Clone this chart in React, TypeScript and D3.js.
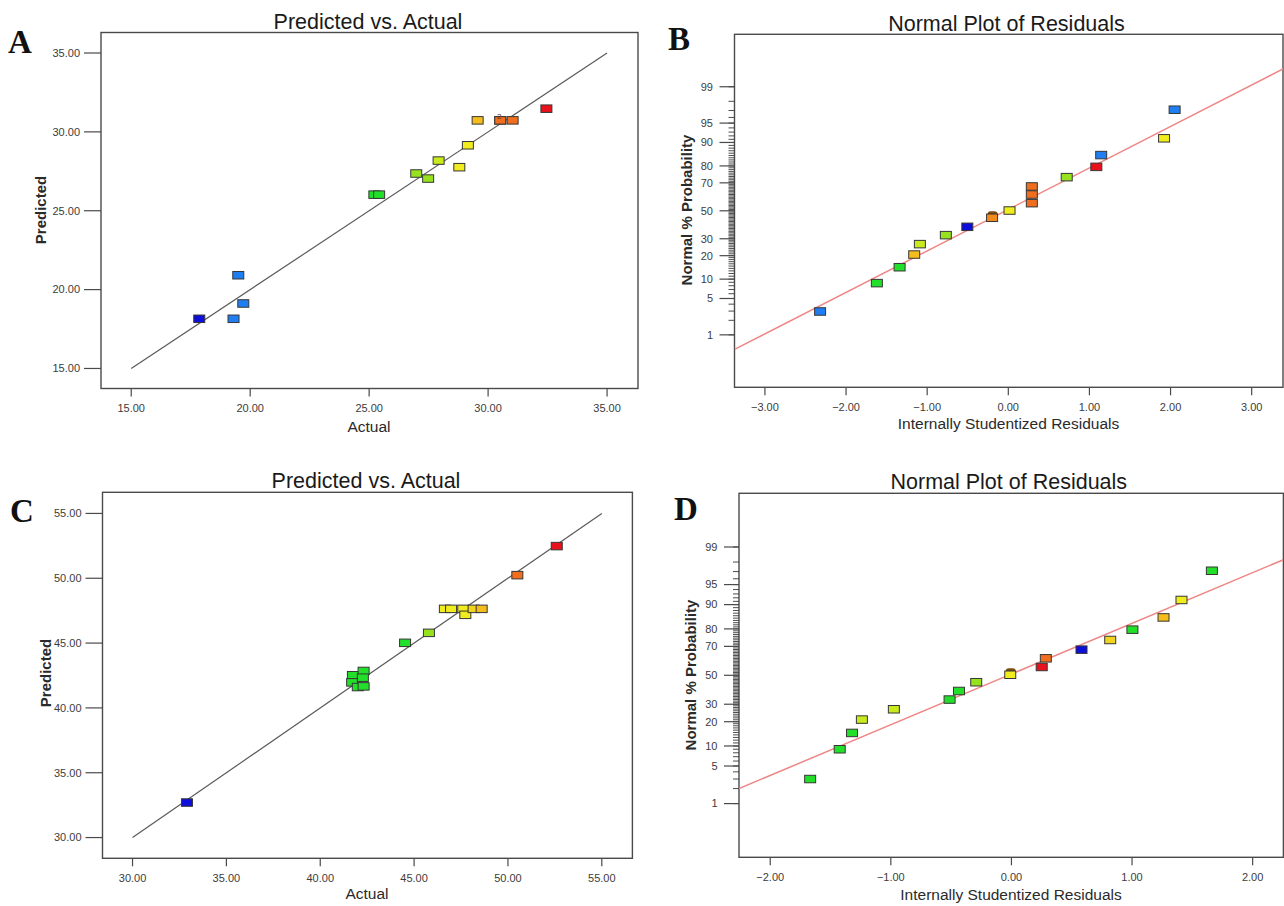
import React from "react";
import * as d3 from "d3";

// ---------- colours of the design points ----------
const C_DARKBLUE = "#0d0ddc";
const C_BLUE = "#1f7ff2";
const C_GREEN = "#22e02a";
const C_LIME = "#97e21e";
const C_YGREEN = "#c9ea1c";
const C_YELLOW = "#f0ec1e";
const C_YGOLD = "#f2d41e";
const C_GOLD = "#f5bd1c";
const C_ORANGE = "#f06e1e";
const C_LORANGE = "#f38a1e";
const C_RED = "#e8121c";

// ---------- Panel A: Predicted vs. Actual ----------
const aActual = [17.86, 19.3, 19.5, 19.71, 25.22, 25.42, 26.98, 27.48, 27.92, 28.79, 29.15, 29.56, 30.51, 30.51, 31.03, 32.45];
const aPredicted = [18.15, 18.15, 20.91, 19.12, 26.02, 26.02, 27.36, 27.04, 28.18, 27.76, 29.15, 30.73, 30.73, 30.73, 30.73, 31.47];
const aColors = [C_DARKBLUE, C_BLUE, C_BLUE, C_BLUE, C_GREEN, C_GREEN, C_LIME, C_LIME, C_YGREEN, C_YELLOW, C_YELLOW, C_GOLD, C_ORANGE, C_ORANGE, C_ORANGE, C_RED];
const aTicks = [15, 20, 25, 30, 35];
const aFit = [15, 35];

// ---------- Panel B: Normal plot of residuals ----------
const bResidual = [-2.32, -1.62, -1.34, -1.16, -1.09, -0.77, -0.505, -0.2, 0.015, 0.29, 0.29, 0.29, 0.72, 1.085, 1.145, 1.92, 2.05];
const bPercent = [2.95, 8.75, 14.5, 20.6, 26.6, 32.4, 38.2, 44.8, 50.2, 55.7, 62.0, 67.6, 73.6, 79.5, 85.2, 91.3, 97.1];
const bColors = [C_BLUE, C_GREEN, C_GREEN, C_GOLD, C_YGREEN, C_LIME, C_DARKBLUE, C_LORANGE, C_YELLOW, C_ORANGE, C_ORANGE, C_ORANGE, C_LIME, C_RED, C_BLUE, C_YELLOW, C_BLUE];
const bTicks = [-3, -2, -1, 0, 1, 2, 3];
const bLineX = [-3.375, 3.386];
const bLineZ = [-2.6, 2.66];

// ---------- Panel C: Predicted vs. Actual ----------
const cActual = [32.9, 41.74, 42.31, 41.7, 42.27, 42.0, 42.31, 44.52, 45.79, 46.64, 46.97, 47.62, 47.73, 48.17, 48.6, 50.5, 52.6];
const cPredicted = [32.7, 42.52, 42.85, 41.97, 42.33, 41.61, 41.66, 45.02, 45.79, 47.64, 47.64, 47.64, 47.18, 47.64, 47.64, 50.24, 52.48];
const cColors = [C_DARKBLUE, C_GREEN, C_GREEN, C_GREEN, C_GREEN, C_GREEN, C_GREEN, C_GREEN, C_LIME, C_YELLOW, C_YELLOW, C_YELLOW, C_YELLOW, C_YGOLD, C_GOLD, C_ORANGE, C_RED];
const cTicks = [30, 35, 40, 45, 50, 55];
const cFit = [30, 55];

// ---------- Panel D: Normal plot of residuals ----------
const dResidual = [-1.669, -1.424, -1.322, -1.24, -0.975, -0.513, -0.435, -0.292, -0.01, 0.251, 0.285, 0.581, 0.819, 1.003, 1.261, 1.41, 1.662];
const dPercent = [3.0, 9.0, 14.8, 21.1, 26.9, 33.0, 38.8, 45.0, 50.4, 56.0, 62.1, 67.9, 73.9, 79.6, 85.3, 91.4, 97.1];
const dColors = [C_GREEN, C_GREEN, C_GREEN, C_YGREEN, C_YGREEN, C_GREEN, C_GREEN, C_LIME, C_YELLOW, C_RED, C_ORANGE, C_DARKBLUE, C_YGOLD, C_GREEN, C_GOLD, C_YELLOW, C_GREEN];
const dTicks = [-2, -1, 0, 1, 2];
const dLineX = [-2.259, 2.255];
const dLineZ = [-2.053, 2.095];

// probability axis
const probLabels = [1, 5, 10, 20, 30, 50, 70, 80, 90, 95, 99];
const probMinor = d3.range(1, 100);

const FONT = "'Liberation Sans', Arial, Helvetica, sans-serif";
const SERIF = "'Liberation Serif', 'Times New Roman', serif";

// inverse normal CDF (Acklam)
function probit(p: number): number {
  const a = [-3.969683028665376e1, 2.209460984245205e2, -2.759285104469687e2, 1.38357751867269e2, -3.066479806614716e1, 2.506628277459239];
  const b = [-5.447609879822406e1, 1.615858368580409e2, -1.556989798598866e2, 6.680131188771972e1, -1.328068155288572e1];
  const c = [-7.784894002430293e-3, -3.223964580411365e-1, -2.400758277161838, -2.549732539343734, 4.374664141464968, 2.938163982698783];
  const d = [7.784695709041462e-3, 3.224671290700398e-1, 2.445134137142996, 3.754408661907416];
  const pl = 0.02425;
  if (p < pl) {
    const q = Math.sqrt(-2 * Math.log(p));
    return (((((c[0] * q + c[1]) * q + c[2]) * q + c[3]) * q + c[4]) * q + c[5]) / ((((d[0] * q + d[1]) * q + d[2]) * q + d[3]) * q + 1);
  }
  if (p <= 1 - pl) {
    const q = p - 0.5;
    const r = q * q;
    return ((((((a[0] * r + a[1]) * r + a[2]) * r + a[3]) * r + a[4]) * r + a[5]) * q) / (((((b[0] * r + b[1]) * r + b[2]) * r + b[3]) * r + b[4]) * r + 1);
  }
  const q = Math.sqrt(-2 * Math.log(1 - p));
  return -(((((c[0] * q + c[1]) * q + c[2]) * q + c[3]) * q + c[4]) * q + c[5]) / ((((d[0] * q + d[1]) * q + d[2]) * q + d[3]) * q + 1);
}

type Frame = { l: number; t: number; r: number; b: number };

const fmt2 = d3.format(".2f");

function Marker({ x, y, color }: { x: number; y: number; color: string }) {
  return <rect x={x - 5.5} y={y - 3.75} width={11} height={7.5} fill={color} stroke="#363636" strokeWidth={1} />;
}

function Frame({ f, id }: { f: Frame; id: string }) {
  return (
    <>
      <clipPath id={id}>
        <rect x={f.l} y={f.t} width={f.r - f.l} height={f.b - f.t} />
      </clipPath>
      <rect x={f.l} y={f.t} width={f.r - f.l} height={f.b - f.t} fill="none" stroke="#4a4a4a" strokeWidth={1.4} />
    </>
  );
}

function Titles({ letter, lx, ly, title, tx, ty, xTitle, xtx, xty, yTitle, ytx, yty }: any) {
  return (
    <>
      <text x={lx} y={ly} fontFamily={SERIF} fontWeight="bold" fontSize={33} fill="#111">{letter}</text>
      <text x={tx} y={ty} textAnchor="middle" fontFamily={FONT} fontSize={21.5} fill="#1a1a1a">{title}</text>
      <text x={xtx} y={xty} textAnchor="middle" fontFamily={FONT} fontSize={15.5} fill="#2a2a2a">{xTitle}</text>
      <text transform={`translate(${ytx},${yty}) rotate(-90)`} textAnchor="middle" dy="0.35em" fontFamily={FONT} fontWeight="bold" fontSize={15} fill="#2a2a2a">{yTitle}</text>
    </>
  );
}

function XAxis({ f, x, ticks }: { f: Frame; x: d3.ScaleLinear<number, number>; ticks: number[] }) {
  return (
    <g>
      {ticks.map((t) => (
        <g key={t}>
          <line x1={x(t)} x2={x(t)} y1={f.b} y2={f.b + 8} stroke="#4a4a4a" strokeWidth={1.2} />
          <text x={x(t)} y={f.b + 23.5} textAnchor="middle" fontFamily={FONT} fontSize={11} fill="#3c3c3c">{fmt2(t)}</text>
        </g>
      ))}
    </g>
  );
}

function YAxisLinear({ f, y, ticks }: { f: Frame; y: d3.ScaleLinear<number, number>; ticks: number[] }) {
  return (
    <g>
      {ticks.map((t) => (
        <g key={t}>
          <line x1={f.l - 17} x2={f.l} y1={y(t)} y2={y(t)} stroke="#4a4a4a" strokeWidth={1.2} />
          <text x={f.l - 21} y={y(t)} dy="0.35em" textAnchor="end" fontFamily={FONT} fontSize={11} fill="#3c3c3c">{fmt2(t)}</text>
        </g>
      ))}
    </g>
  );
}

function YAxisProb({ f, y }: { f: Frame; y: d3.ScaleLinear<number, number> }) {
  return (
    <g>
      {probMinor.map((p) => (
        <line key={"m" + p} x1={f.l - 6} x2={f.l} y1={y(probit(p / 100))} y2={y(probit(p / 100))} stroke="#3a3a3a" strokeWidth={0.9} />
      ))}
      {probLabels.map((p) => (
        <g key={p}>
          <line x1={f.l - 15} x2={f.l} y1={y(probit(p / 100))} y2={y(probit(p / 100))} stroke="#4a4a4a" strokeWidth={1.2} />
          <text x={f.l - 21.5} y={y(probit(p / 100))} dy="0.35em" textAnchor="end" fontFamily={FONT} fontSize={11} fill="#3c3c3c">{p}</text>
        </g>
      ))}
    </g>
  );
}

function PredPanel(props: {
  id: string; f: Frame; dom: [number, number]; ticks: number[]; fit: number[];
  actual: number[]; predicted: number[]; colors: string[]; labels: any; overlapIdx?: number;
}) {
  const { id, f, dom, ticks, fit, actual, predicted, colors, labels, overlapIdx } = props;
  const x = d3.scaleLinear().domain(dom).range([f.l, f.r]);
  const y = d3.scaleLinear().domain(dom).range([f.b, f.t]);
  const fitLine = d3.line<number>().x((v) => x(v)).y((v) => y(v));
  return (
    <g>
      <Titles {...labels} />
      <Frame f={f} id={id} />
      <XAxis f={f} x={x} ticks={ticks} />
      <YAxisLinear f={f} y={y} ticks={ticks} />
      <g clipPath={`url(#${id})`}>
        <path d={fitLine(fit) || ""} stroke="#5a5a5a" strokeWidth={1.2} fill="none" />
        {actual.map((a, i) => (
          <Marker key={i} x={x(a)} y={y(predicted[i])} color={colors[i]} />
        ))}
        {overlapIdx !== undefined && (
          <text x={x(actual[overlapIdx]) - 1} y={y(predicted[overlapIdx]) - 1} textAnchor="middle" fontFamily={FONT} fontSize={8} fill="#5a3a10">2</text>
        )}
      </g>
    </g>
  );
}

function NormPanel(props: {
  id: string; f: Frame; xDom: [number, number]; zDom: [number, number]; ticks: number[];
  resid: number[]; pct: number[]; colors: string[]; lineX: number[]; lineZ: number[]; labels: any; overlapIdx: number;
}) {
  const { id, f, xDom, zDom, ticks, resid, pct, colors, lineX, lineZ, labels, overlapIdx } = props;
  const x = d3.scaleLinear().domain(xDom).range([f.l, f.r]);
  const y = d3.scaleLinear().domain(zDom).range([f.b, f.t]);
  const ln = d3.line<number>().x((v) => x(v)).y((_, i) => y(lineZ[i]));
  return (
    <g>
      <Titles {...labels} />
      <Frame f={f} id={id} />
      <XAxis f={f} x={x} ticks={ticks} />
      <YAxisProb f={f} y={y} />
      <g clipPath={`url(#${id})`}>
        <path d={ln(lineX) || ""} stroke="#ee8686" strokeWidth={1.5} fill="none" />
        <rect x={x(resid[overlapIdx]) - 4.5} y={y(probit(pct[overlapIdx] / 100)) - 6.5} width={10} height={7} rx={3} fill="#7a4e12" />
        {resid.map((r, i) => (
          <Marker key={i} x={x(r)} y={y(probit(pct[i] / 100))} color={colors[i]} />
        ))}
      </g>
    </g>
  );
}

export default function App() {
  return (
    <div style={{ position: "absolute", left: 0, top: 0, width: 1284, height: 906, background: "#fff" }}>
      <svg width={1284} height={906} viewBox="0 0 1284 906" style={{ display: "block" }}>
        <rect width={1284} height={906} fill="#fff" />
        <PredPanel
          id="clipA"
          f={{ l: 101, t: 32.5, r: 638, b: 388.5 }}
          dom={[13.73, 36.3]}
          ticks={aTicks}
          fit={aFit}
          actual={aActual}
          predicted={aPredicted}
          colors={aColors}
          overlapIdx={12}
          labels={{ letter: "A", lx: 8, ly: 53, title: "Predicted vs. Actual", tx: 368, ty: 28.5, xTitle: "Actual", xtx: 369, xty: 432, yTitle: "Predicted", ytx: 41, yty: 210 }}
        />
        <NormPanel
          id="clipB"
          f={{ l: 734.5, t: 34.3, r: 1283, b: 387.3 }}
          xDom={[-3.375, 3.386]}
          zDom={[-3.31, 3.31]}
          ticks={bTicks}
          resid={bResidual}
          pct={bPercent}
          colors={bColors}
          lineX={bLineX}
          lineZ={bLineZ}
          overlapIdx={7}
          labels={{ letter: "B", lx: 668, ly: 50, title: "Normal Plot of Residuals", tx: 1006.5, ty: 30.5, xTitle: "Internally Studentized Residuals", xtx: 1008.5, xty: 428.5, yTitle: "Normal % Probability", ytx: 687, yty: 210 }}
        />
        <PredPanel
          id="clipC"
          f={{ l: 102.5, t: 492.3, r: 632.4, b: 858.3 }}
          dom={[28.4, 56.63]}
          ticks={cTicks}
          fit={cFit}
          actual={cActual}
          predicted={cPredicted}
          colors={cColors}
          labels={{ letter: "C", lx: 10, ly: 522, title: "Predicted vs. Actual", tx: 366, ty: 488, xTitle: "Actual", xtx: 367, xty: 898.5, yTitle: "Predicted", ytx: 46, yty: 673 }}
        />
        <NormPanel
          id="clipD"
          f={{ l: 739, t: 493.3, r: 1283.4, b: 857.3 }}
          xDom={[-2.259, 2.255]}
          zDom={[-3.3, 3.3]}
          ticks={dTicks}
          resid={dResidual}
          pct={dPercent}
          colors={dColors}
          lineX={dLineX}
          lineZ={dLineZ}
          overlapIdx={8}
          labels={{ letter: "D", lx: 674, ly: 520, title: "Normal Plot of Residuals", tx: 1008.8, ty: 489, xTitle: "Internally Studentized Residuals", xtx: 1011, xty: 900, yTitle: "Normal % Probability", ytx: 691, yty: 675 }}
        />
      </svg>
    </div>
  );
}
